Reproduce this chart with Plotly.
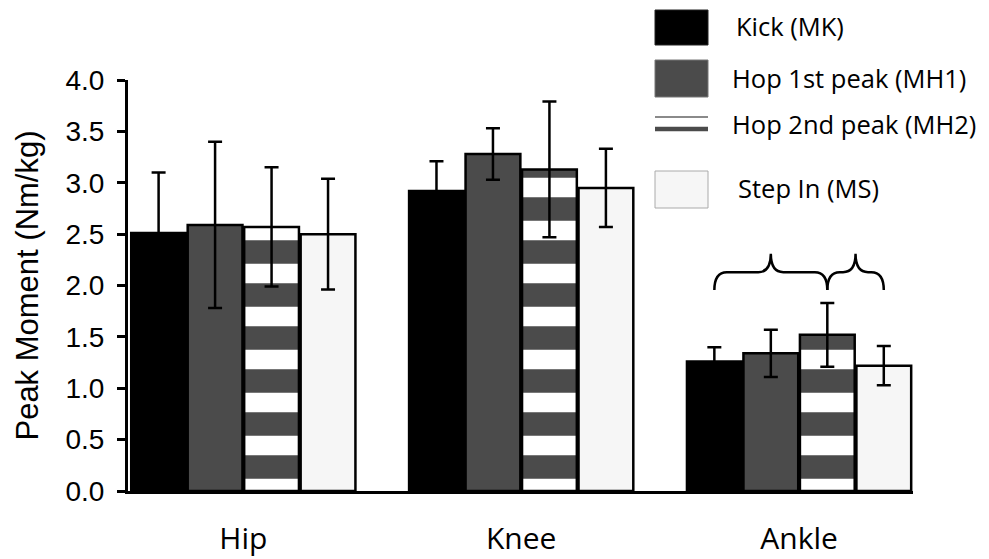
import plotly.graph_objects as go

# ---------------- data ----------------
joints = ["Hip", "Knee", "Ankle"]
series_names = ["Kick (MK)", "Hop 1st peak (MH1)", "Hop 2nd peak (MH2)", "Step In (MS)"]
kick = [2.51, 2.92, 1.26]
kick_sd = [0.59, 0.29, 0.14]
hop1 = [2.59, 3.28, 1.34]
hop1_sd = [0.81, 0.25, 0.23]
hop2 = [2.57, 3.13, 1.52]
hop2_sd = [0.58, 0.66, 0.31]
step = [2.50, 2.95, 1.22]
step_sd = [0.54, 0.38, 0.19]
y_ticks = [0.0, 0.5, 1.0, 1.5, 2.0, 2.5, 3.0, 3.5, 4.0]
# significance braces on ankle: (from series index, to series index)
brace_pairs = [(0, 2), (2, 3)]
brace_levels = (1.955, 2.13, 2.31)  # ends, body, tip

# ---------------- style ----------------
W, H = 989, 559
ML, MR, MT, MB = 128, 76, 80, 68
bargap = 0.187
xs = list(range(len(joints)))
bw = (1 - bargap) / 4

values = [kick, hop1, hop2, step]
sds = [kick_sd, hop1_sd, hop2_sd, step_sd]
fills = ["#000000", "#4b4b4b", "#4b4b4b", "#f6f6f6"]

fig = go.Figure()
for i, (v, s) in enumerate(zip(values, sds)):
    marker = dict(color=fills[i], line=dict(color="black", width=2.5))
    if i == 2:
        marker["pattern"] = dict(shape="-", bgcolor="#4b4b4b", fgcolor="white",
                                 size=43, solidity=0.45, fillmode="replace")
    fig.add_trace(go.Bar(
        x=xs, y=v, name=series_names[i], marker=marker, showlegend=False,
        error_y=dict(type="data", array=s, visible=True, color="black",
                     thickness=2.5, width=7),
    ))

# braces (data coords, derived from bar centres of the ankle group)
g = 2
ylow, ymid, ytop = brace_levels
r = 0.045
for a, b in brace_pairs:
    xa = g + (a - 1.5) * bw
    xb = g + (b - 1.5) * bw
    xc = (xa + xb) / 2
    path = (f"M {xa},{ylow} Q {xa},{ymid} {xa + r},{ymid} L {xc - r},{ymid} "
            f"Q {xc},{ymid} {xc},{ytop} Q {xc},{ymid} {xc + r},{ymid} "
            f"L {xb - r},{ymid} Q {xb},{ymid} {xb},{ylow}")
    fig.add_shape(type="path", path=path, xref="x", yref="y",
                  line=dict(color="black", width=2.5))

# custom legend (paper coords)
pw, ph = W - ML - MR, H - MT - MB
def px(x):
    return (x - ML) / pw
def py(y):
    return (H - MB - y) / ph

lx0, lx1 = px(655), px(708)
# Kick
fig.add_shape(type="rect", xref="paper", yref="paper", x0=lx0, x1=lx1, y0=py(45), y1=py(10),
              fillcolor="black", line=dict(color="#222", width=1))
# Hop 1
fig.add_shape(type="rect", xref="paper", yref="paper", x0=lx0, x1=lx1, y0=py(97), y1=py(60),
              fillcolor="#4b4b4b", line=dict(color="#777", width=1))
# Hop 2 (two lines)
fig.add_shape(type="line", xref="paper", yref="paper", x0=lx0, x1=lx1, y0=py(117), y1=py(117),
              line=dict(color="#8a8a8a", width=2))
fig.add_shape(type="line", xref="paper", yref="paper", x0=lx0, x1=lx1, y0=py(129), y1=py(129),
              line=dict(color="#4b4b4b", width=4.5))
# Step in
fig.add_shape(type="rect", xref="paper", yref="paper", x0=lx0, x1=lx1, y0=py(208), y1=py(171),
              fillcolor="#f6f6f6", line=dict(color="#aaaaaa", width=1))

label_y = [26, 78, 124, 188]
label_x = [734, 730, 730, 736]
for name, yy, xx in zip(series_names, label_y, label_x):
    fig.add_annotation(text=name, xref="paper", yref="paper", x=px(xx), y=py(yy),
                       xanchor="left", yanchor="middle", showarrow=False,
                       font=dict(family="Open Sans", size=25.5, color="black"))

fig.update_layout(
    width=W, height=H,
    margin=dict(l=ML, r=MR, t=MT, b=MB, autoexpand=False),
    paper_bgcolor="white", plot_bgcolor="white",
    barmode="group", bargap=bargap, bargroupgap=0.03,
    showlegend=False,
)
fig.update_xaxes(
    range=[-0.415, 2.41], tickmode="array", tickvals=xs, ticktext=joints,
    showline=True, linecolor="black", linewidth=3, ticks="", showgrid=False,
    zeroline=False, ticklabelstandoff=19, automargin=False,
    tickfont=dict(family="Open Sans", size=30, color="black"),
)
fig.update_yaxes(
    range=[0, 4], tickmode="array", tickvals=y_ticks,
    ticktext=[f"{t:.1f}" for t in y_ticks],
    showline=True, linecolor="black", linewidth=3, ticks="outside", ticklen=8,
    tickwidth=3, tickcolor="black", showgrid=False, zeroline=False,
    tickfont=dict(family="Liberation Sans", size=28, color="black"),
    ticklabelstandoff=7, automargin=False,
    title=dict(text="Peak Moment (Nm/kg)", standoff=18,
               font=dict(family="Liberation Sans", size=31, color="black")),
)

fig.write_html("out.html", config={"displayModeBar": False},
               post_script="document.body.style.margin='0';")
